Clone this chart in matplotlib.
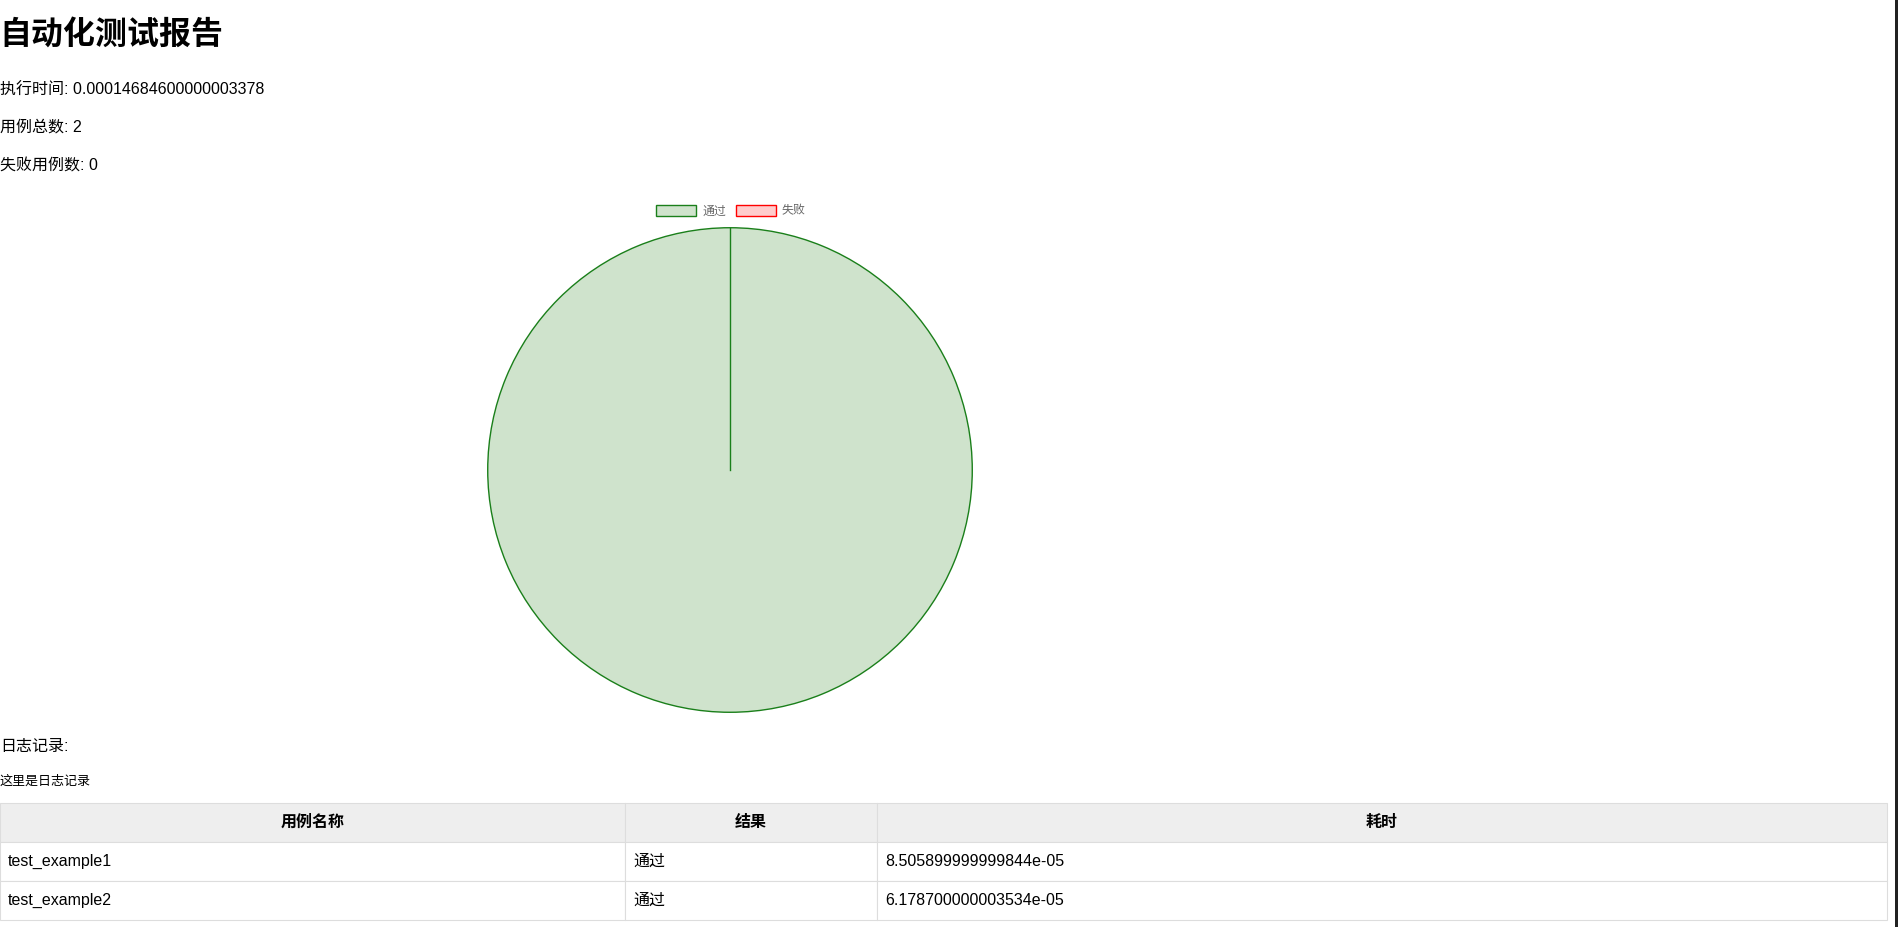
import matplotlib.pyplot as plt
import matplotlib.patches as mpatches
import numpy as np

plt.rcParams['font.family'] = ['Liberation Sans', 'Noto Sans CJK SC', 'DejaVu Sans']

# 报告数据
title = "自动化测试报告"
exec_time = "0.00014684600000003378"
total_cases = 2
failed_cases = 0
log_text = "这里是日志记录"

pie_labels = ['通过', '失败']
pie_values = [total_cases - failed_cases, failed_cases]
pie_fill = ['#cfe3cc', '#ffcccc']
pie_edge = ['#1a7f1a', '#ff0000']

col_names = ['用例名称', '结果', '耗时']
case_names = ['test_example1', 'test_example2']
case_results = ['通过', '通过']
case_times = ['8.505899999999844e-05', '6.178700000003534e-05']

W, H = 1899, 927
fig = plt.figure(figsize=(W / 100, H / 100), dpi=100)
fig.patch.set_facecolor('white')

# 整页坐标轴（像素坐标）
page = fig.add_axes([0, 0, 1, 1])
page.set_xlim(0, W)
page.set_ylim(H, 0)
page.axis('off')

page.text(-1, 35, title, fontsize=23, fontweight='bold', va='center', ha='left', color='black')
page.text(0, 90, f"执行时间: {exec_time}", fontsize=11.5, va='center', ha='left')
page.text(0, 127.5, f"用例总数: {total_cases}", fontsize=11.5, va='center', ha='left')
page.text(0, 166, f"失败用例数: {failed_cases}", fontsize=11.5, va='center', ha='left')
page.text(0, 746, "日志记录:", fontsize=11.5, va='center', ha='left')
page.text(0, 782, log_text, fontsize=9.4, va='center', ha='left')

# 饼图
cx, cy, r = 730, 470, 243
pie_ax = fig.add_axes([(cx - r) / W, (H - cy - r) / H, 2 * r / W, 2 * r / H])
wedges, _ = pie_ax.pie(pie_values, colors=pie_fill, startangle=90, counterclock=False,
                       wedgeprops=dict(linewidth=1.0))
for w, ec, v in zip(wedges, pie_edge, pie_values):
    w.set_edgecolor(ec)
    if v == 0:
        w.set_visible(False)
# 扇区分隔线
ang = np.deg2rad(90)
pie_ax.plot([0, np.cos(ang)], [0, np.sin(ang)], color=pie_edge[0], lw=1.0)
pie_ax.set_xlim(-1.003, 1.003)
pie_ax.set_ylim(-1.003, 1.003)
pie_ax.set_aspect('equal')
pie_ax.axis('off')

handles = [mpatches.Patch(facecolor=f, edgecolor=e, linewidth=1.0) for f, e in zip(pie_fill, pie_edge)]
leg = fig.legend(handles, pie_labels, loc='center', bbox_to_anchor=(731 / W, 1 - 211 / H),
                 ncol=2, frameon=False, fontsize=8.6, labelcolor='#666666',
                 handlelength=3.33, handleheight=1.08, handletextpad=0.5, columnspacing=0.85)

# 表格
col_px = [625, 252, 1010]
top, row_h = 803, 39
cell_text = [[n, res, t] for n, res, t in zip(case_names, case_results, case_times)]
n_rows = len(cell_text) + 1
tbl = page.table(cellText=cell_text, colLabels=col_names,
                 colWidths=[c / sum(col_px) for c in col_px],
                 cellLoc='left',
                 bbox=[0, 1 - (top + n_rows * row_h) / H, sum(col_px) / W, n_rows * row_h / H])
tbl.auto_set_font_size(False)
tbl.set_fontsize(11.5)
for (row, col), cell in tbl.get_celld().items():
    cell.set_edgecolor('#dddddd')
    cell.set_linewidth(0.8)
    if row == 0:
        cell.set_facecolor('#eeeeee')
        cell.get_text().set_fontweight('bold')
        cell.get_text().set_ha('center')
        cell._loc = 'center'
    else:
        cell.PAD = 8 / col_px[col]

# 右侧滚动条
fig.patches.append(mpatches.Rectangle((1895 / W, 0), 4 / W, 1, transform=fig.transFigure,
                                      facecolor='#222222', edgecolor='none'))

fig.savefig('out.png', dpi=100)
